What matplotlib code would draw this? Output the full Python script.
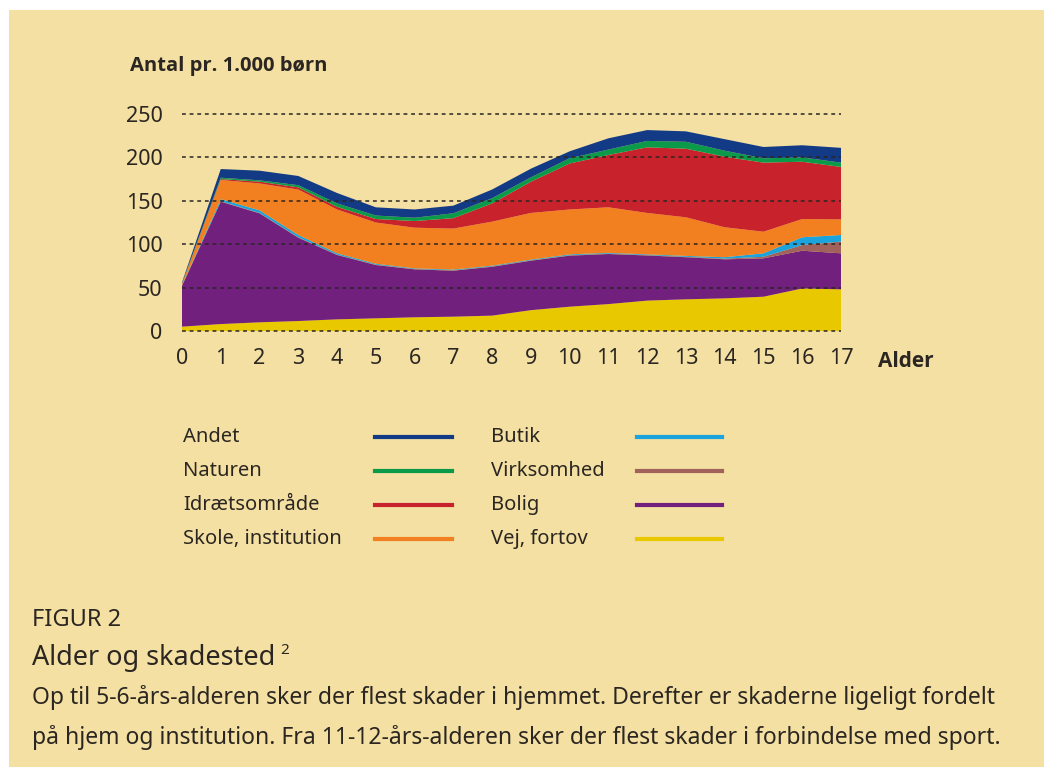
import matplotlib
matplotlib.use("Agg")
import matplotlib.pyplot as plt
from matplotlib.patches import Rectangle
from matplotlib.lines import Line2D
import numpy as np

plt.rcParams['font.family'] = ['Noto Sans', 'DejaVu Sans']
BOLD = ['Open Sans', 'Lato', 'DejaVu Sans']

ages = list(range(18))
vej = [5, 8, 10, 11.5, 13.4, 14.6, 15.8, 16.5, 17.7, 24, 28, 31, 35, 36.5, 37.6, 39.5, 49, 48]
bolig = [47, 141, 125.6, 96, 74.2, 61.4, 55.2, 53, 56.3, 57, 58.8, 57.7, 52, 48.5, 45, 44.2, 43.5, 41.5]
virksomhed = [0.5, 0.5, 0.4, 0.5, 0.4, 0.5, 0.5, 0.5, 0.5, 0.5, 0.5, 0.5, 0.5, 0.5, 0.7, 1.8, 6.5, 13.5]
butik = [0.5, 2.5, 3, 2.6, 1.5, 1, 0.7, 0.8, 0.8, 0.8, 1, 0.8, 0.8, 1, 1.7, 4, 9, 7.6]
skole = [1, 22, 31, 52.4, 50.5, 47.5, 46.8, 47.2, 50.7, 53.7, 51.7, 52.5, 47.7, 44.5, 34.5, 24.9, 21, 18]
idraet = [0.5, 1, 2, 2.5, 3, 4, 7.7, 12, 21, 36, 53, 60.3, 75.6, 79, 81.3, 79.6, 66, 60.4]
naturen = [0.5, 1.6, 1.6, 2.5, 4, 4, 3.8, 5.6, 6, 5, 6, 6.2, 7.4, 8, 6.9, 5, 5, 5]
andet = [1, 10, 11.1, 10.6, 12, 9.5, 9.5, 8.8, 10, 10, 8, 13, 12.5, 12, 13.3, 13, 14, 17]

series_names = ["Vej, fortov", "Bolig", "Virksomhed", "Butik",
                "Skole, institution", "Idrætsområde", "Naturen", "Andet"]
series_vals = [vej, bolig, virksomhed, butik, skole, idraet, naturen, andet]
colors = {"Vej, fortov": "#E8C800", "Bolig": "#72207E", "Virksomhed": "#A0625A",
          "Butik": "#1AA3DC", "Skole, institution": "#F27F20", "Idrætsområde": "#C8232C",
          "Naturen": "#0B9A4A", "Andet": "#133A85"}
yticks = [0, 50, 100, 150, 200, 250]

BG = "#F3E0A2"
TXT = "#2B2622"
W, H = 1044, 767
fig = plt.figure(figsize=(W / 100, H / 100), dpi=100)
fig.patch.set_facecolor("white")
fig.add_artist(Rectangle((9 / W, 0), 1, 1 - 10 / H, transform=fig.transFigure,
                         facecolor=BG, edgecolor="none", zorder=0))

ax = fig.add_axes([182 / W, 1 - 331 / H, (841 - 182) / W, (331 - 114) / H])
ax.set_facecolor("none")
ax.stackplot(ages, *series_vals, colors=[colors[n] for n in series_names],
             linewidth=0, zorder=2)
ax.set_xlim(0, 17)
ax.set_ylim(0, 250)
for v in yticks:
    ax.plot([0, 17], [v, v], color="#2B2622", lw=1.1, ls=(0, (2.5, 2.5)),
            zorder=3, clip_on=False)
for s in ax.spines.values():
    s.set_visible(False)
ax.set_xticks(ages)
ax.set_yticks(yticks)
ax.tick_params(length=0, labelsize=15.5, labelcolor=TXT)
ax.tick_params(axis='x', pad=12)
ax.tick_params(axis='y', pad=14)

fig.text(130 / W, 1 - 66 / H, "Antal pr. 1.000 børn", fontsize=14.5,
         fontweight="bold", family=BOLD, color=TXT, va="center", ha="left")
fig.text(878 / W, 1 - 361 / H, "Alder", fontsize=15, fontweight="bold",
         family=BOLD, color=TXT, va="center", ha="left")

# legend
rows = [437, 471, 505, 539]
col1 = ["Andet", "Naturen", "Idrætsområde", "Skole, institution"]
col2 = ["Butik", "Virksomhed", "Bolig", "Vej, fortov"]
for names, tx, lx0, lx1 in [(col1, 183, 375, 452), (col2, 491, 637, 722)]:
    for name, ry in zip(names, rows):
        fig.text(tx / W, 1 - ry / H, name, fontsize=14.5, color=TXT,
                 va="center", ha="left")
        fig.add_artist(Line2D([lx0 / W, lx1 / W], [1 - ry / H, 1 - ry / H],
                              transform=fig.transFigure, color=colors[name], lw=3))

fig.text(32 / W, 1 - 620 / H, "FIGUR 2", fontsize=17, color=TXT,
         va="center", ha="left")
fig.text(32 / W, 1 - 658 / H, "Alder og skadested", fontsize=19.5, color=TXT,
         va="center", ha="left")
fig.text(280 / W, 1 - 651 / H, "2", fontsize=11, color=TXT, va="center", ha="left")
fig.text(32 / W, 1 - 698 / H,
         "Op til 5-6-års-alderen sker der flest skader i hjemmet. Derefter er skaderne ligeligt fordelt",
         fontsize=16.5, color=TXT, va="center", ha="left")
fig.text(32 / W, 1 - 738 / H,
         "på hjem og institution. Fra 11-12-års-alderen sker der flest skader i forbindelse med sport.",
         fontsize=16.5, color=TXT, va="center", ha="left")

fig.savefig("out.png", dpi=100, facecolor=fig.get_facecolor())
